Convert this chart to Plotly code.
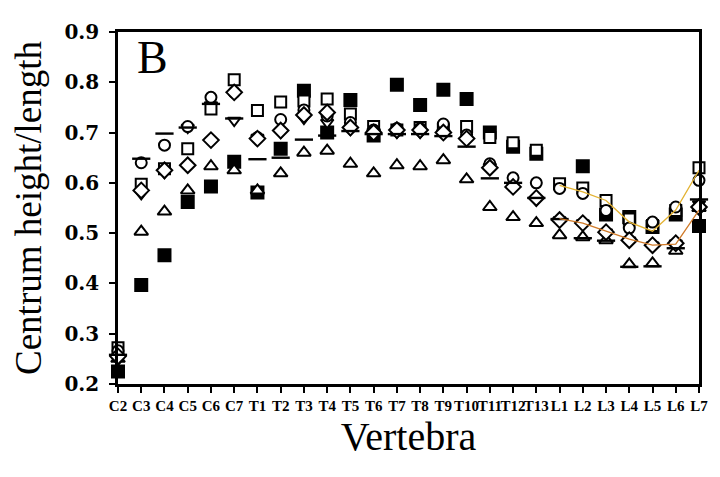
import plotly.graph_objects as go

vertebrae = ["C2","C3","C4","C5","C6","C7","T1","T2","T3","T4","T5","T6","T7","T8","T9","T10",
             "T11","T12","T13","L1","L2","L3","L4","L5","L6","L7"]

filled_square = [0.225,0.397,0.456,0.562,0.593,0.642,0.581,0.668,0.783,0.700,0.765,0.694,0.795,0.755,0.785,0.767,
                 0.700,0.672,0.658,None,0.633,0.537,0.532,0.512,0.537,0.514]
open_square = [0.272,0.597,0.628,0.668,0.747,0.805,0.744,0.761,0.763,0.767,0.737,0.712,0.705,0.710,0.705,0.712,
               0.690,0.680,0.665,0.598,0.590,0.565,0.528,0.515,0.545,0.630]
open_circle = [0.266,0.640,0.675,0.712,0.770,0.780,0.690,0.726,0.745,0.733,0.720,0.705,0.708,0.708,0.717,0.695,
               0.638,0.610,0.600,0.589,0.579,0.545,0.510,0.522,0.552,0.605]
open_diamond = [0.255,0.585,0.625,0.635,0.685,0.780,0.688,0.704,0.735,0.740,0.710,0.700,0.705,0.705,0.700,0.688,
                0.630,0.592,0.570,0.526,0.520,0.502,0.486,0.476,0.480,0.552]
triangle_up = [0.250,0.503,0.543,0.585,0.633,0.625,0.585,0.619,0.660,0.664,0.638,0.619,0.635,0.633,0.645,0.607,
               0.552,0.532,0.520,0.496,0.492,0.486,0.438,0.440,0.465,0.550]
triangle_down = [0.248,0.578,0.620,0.710,0.755,0.724,0.690,0.700,0.728,0.720,0.706,0.700,0.700,0.700,0.700,0.685,
                 0.632,0.590,0.565,0.526,0.520,0.502,0.486,0.476,0.480,0.558]
dash = [0.258,0.648,0.698,0.710,0.757,0.728,0.647,0.650,0.686,0.694,0.703,0.697,0.697,0.697,0.693,0.672,
        0.609,0.600,0.570,0.528,0.490,0.485,0.433,0.434,0.470,0.567]

lumbar = ["L1","L2","L3","L4","L5","L6","L7"]
fit_upper = [0.595,0.582,0.565,0.522,0.504,0.546,0.625]
fit_lower = [0.529,0.520,0.504,0.488,0.476,0.478,0.546]

fig = go.Figure()

def add_marks(y, symbol, size, fill):
    fig.add_trace(go.Scatter(
        x=vertebrae, y=y, mode="markers", cliponaxis=False,
        marker=dict(symbol=symbol, size=size, color=fill,
                    line=dict(color="black", width=2)),
        showlegend=False))

add_marks(filled_square, "square", 12, "black")
add_marks(triangle_up, "triangle-up", 12, "white")
add_marks(triangle_down, "triangle-down", 11, "white")
add_marks(open_square, "square", 11, "white")
add_marks(open_circle, "circle", 11, "white")
add_marks(open_diamond, "diamond", 12, "white")
fig.add_trace(go.Scatter(
    x=vertebrae, y=dash, mode="markers", cliponaxis=False,
    marker=dict(symbol="line-ew", size=13, color="black",
                line=dict(color="black", width=2.4)),
    showlegend=False))

fig.add_trace(go.Scatter(x=lumbar, y=fit_upper, mode="lines", cliponaxis=False,
                         line=dict(color="#E3B232", width=1.3), showlegend=False))
fig.add_trace(go.Scatter(x=lumbar, y=fit_lower, mode="lines", cliponaxis=False,
                         line=dict(color="#D07A28", width=1.3), showlegend=False))

fig.add_annotation(x=0.03, y=1.005, xref="paper", yref="paper", text="B", showarrow=False,
                   xanchor="left", yanchor="top",
                   font=dict(family="Liberation Serif", size=46, color="black"))

fig.update_layout(
    width=712, height=469,
    margin=dict(l=110, r=13, t=23, b=93),
    paper_bgcolor="white", plot_bgcolor="white",
    font=dict(family="Liberation Serif", color="black"),
    xaxis=dict(
        type="category", categoryorder="array", categoryarray=vertebrae,
        range=[0, 25], showgrid=False, zeroline=False,
        showline=True, linecolor="black", linewidth=2.5, mirror=True,
        ticks="outside", ticklen=6, tickwidth=2, tickcolor="black",
        tickfont=dict(family="Liberation Serif", size=15, color="black", weight="bold"),
        tickangle=0,
        title=dict(text="Vertebra", font=dict(family="Liberation Serif", size=40), standoff=4),
    ),
    yaxis=dict(
        range=[0.2, 0.9], dtick=0.1, tickformat=".1f", showgrid=False, zeroline=False,
        showline=True, linecolor="black", linewidth=2.5, mirror=True,
        ticks="outside", ticklen=6, tickwidth=2, tickcolor="black",
        tickfont=dict(family="DejaVu Serif", size=20, color="black", weight="bold"),
        ticklabelstandoff=6,
        title=dict(text="Centrum height/length", font=dict(family="Liberation Serif", size=37), standoff=14),
    ),
)

fig.write_html("out.html")
